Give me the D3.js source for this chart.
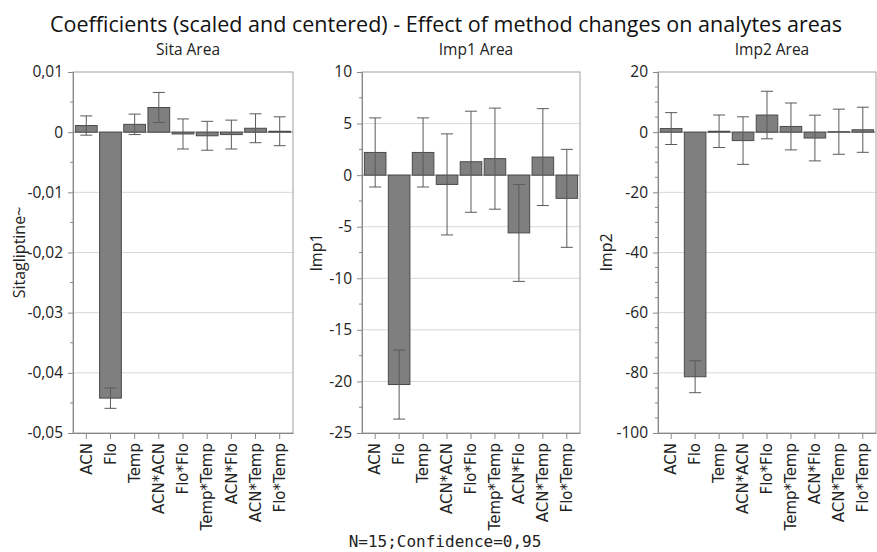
<!DOCTYPE html>
<html>
<head>
<meta charset="utf-8">
<script src="https://cdn.jsdelivr.net/npm/d3@7/dist/d3.min.js"></script>
<style>
body { margin:0; background:#fff; }
text { font-family:"Open Sans", sans-serif; fill:#222; }
</style>
</head>
<body>
<svg id="chart" width="877" height="552"></svg>
<script>
// model terms (x categories)
var terms = ["ACN","Flo","Temp","ACN*ACN","Flo*Flo","Temp*Temp","ACN*Flo","ACN*Temp","Flo*Temp"];

// coefficients and 95% half-widths
var sitaCoef = [0.0011,-0.0442,0.0013,0.0041,-0.0003,-0.0006,-0.0004,0.00065,0.00015];
var sitaErr  = [0.0016,0.0017,0.0017,0.0025,0.0025,0.0024,0.0024,0.0024,0.0024];
var imp1Coef = [2.2,-20.3,2.2,-0.9,1.3,1.6,-5.6,1.75,-2.25];
var imp1Err  = [3.35,3.35,3.35,4.9,4.9,4.9,4.7,4.7,4.75];
var imp2Coef = [1.2,-81.3,0.3,-2.8,5.7,1.9,-1.95,0.15,0.8];
var imp2Err  = [5.3,5.3,5.4,7.9,7.9,7.8,7.6,7.5,7.5];

// y tick labels
var sitaTicks = [0.01,0,-0.01,-0.02,-0.03,-0.04,-0.05];
var imp1Ticks = [10,5,0,-5,-10,-15,-20,-25];
var imp2Ticks = [20,0,-20,-40,-60,-80,-100];

var svg = d3.select("#chart");
var top0 = 72, bot0 = 433;

var loc = d3.formatLocale({decimal:",", thousands:".", grouping:[3], currency:["",""], minus:"-"});
var fmt = loc.format("~g");

var panels = [
  {title:"Sita Area", ylabel:"Sitagliptine~", coef:sitaCoef, err:sitaErr, ticks:sitaTicks, minor:0.005, x0:73,  x1:293, lx:25},
  {title:"Imp1 Area", ylabel:"Imp1",          coef:imp1Coef, err:imp1Err, ticks:imp1Ticks, minor:2.5,   x0:362, x1:580, lx:322},
  {title:"Imp2 Area", ylabel:"Imp2",          coef:imp2Coef, err:imp2Err, ticks:imp2Ticks, minor:5,     x0:658, x1:876, lx:612}
];

svg.append("text")
   .attr("x", 446).attr("y", 32)
   .attr("text-anchor","middle")
   .attr("textLength", 792).attr("lengthAdjust","spacingAndGlyphs")
   .style("font-size","22px").style("fill","#111")
   .text("Coefficients (scaled and centered) - Effect of method changes on analytes areas");

panels.forEach(drawpanel);

svg.append("text")
   .attr("x", 445).attr("y", 547)
   .attr("text-anchor","middle")
   .style("font-family","'DejaVu Sans Mono', monospace")
   .style("font-size","16px").style("fill","#222")
   .text("N=15;Confidence=0,95");

function drawpanel(p){
    var lo = d3.min(p.ticks), hi = d3.max(p.ticks);
    var y = d3.scaleLinear().domain([lo, hi]).range([bot0, top0]);
    var x = d3.scaleBand().domain(terms).range([p.x0, p.x1]).paddingInner(0.1).paddingOuter(0.1);

    var g = svg.append("g").attr("class","panel");

    // gridlines
    g.selectAll(".grid").data(p.ticks.filter(function(t){ return t!=lo && t!=hi; }))
      .enter().append("line")
      .attr("x1", p.x0).attr("x2", p.x1)
      .attr("y1", function(d){ return y(d); }).attr("y2", function(d){ return y(d); })
      .attr("stroke", function(d){ return d==0 ? "#999" : "#d8d8d8"; })
      .attr("stroke-width", 1);

    // frame
    g.append("rect")
      .attr("x", p.x0).attr("y", top0)
      .attr("width", p.x1-p.x0).attr("height", bot0-top0)
      .attr("fill","none").attr("stroke","#a0a0a0");

    // bars
    g.selectAll(".bar").data(p.coef).enter().append("rect")
      .attr("x", function(d,i){ return x(terms[i]); })
      .attr("width", x.bandwidth())
      .attr("y", function(d){ return y(Math.max(0,d)); })
      .attr("height", function(d){ return Math.abs(y(d)-y(0)); })
      .attr("fill","#7f7f7f").attr("stroke","#4a4a4a").attr("stroke-width",1);

    // error bars
    var cap = 6;
    var eb = g.selectAll(".eb").data(p.coef).enter().append("g")
      .attr("transform", function(d,i){ return "translate(" + (x(terms[i])+x.bandwidth()/2) + ",0)"; });
    eb.append("line")
      .attr("y1", function(d,i){ return y(d+p.err[i]); })
      .attr("y2", function(d,i){ return y(d-p.err[i]); })
      .attr("stroke","#5a5a5a");
    eb.append("line")
      .attr("x1",-cap).attr("x2",cap)
      .attr("y1", function(d,i){ return y(d+p.err[i]); })
      .attr("y2", function(d,i){ return y(d+p.err[i]); })
      .attr("stroke","#5a5a5a");
    eb.append("line")
      .attr("x1",-cap).attr("x2",cap)
      .attr("y1", function(d,i){ return y(d-p.err[i]); })
      .attr("y2", function(d,i){ return y(d-p.err[i]); })
      .attr("stroke","#5a5a5a");

    // y axis
    var ya = g.append("g").attr("transform","translate(" + p.x0 + ",0)")
      .call(d3.axisLeft(y).tickValues(p.ticks).tickFormat(fmt).tickSize(5).tickPadding(5));
    ya.select(".domain").attr("stroke","#888");
    ya.selectAll(".tick line").attr("stroke","#888");
    ya.selectAll(".tick text").style("font-family","'Open Sans', sans-serif").style("font-size","15.5px").style("fill","#222");

    // minor ticks
    var minors = d3.range(0, Math.round((hi-lo)/p.minor)+1).map(function(k){ return lo + k*p.minor; })
      .filter(function(v){ return p.ticks.every(function(t){ return Math.abs(t-v) > p.minor/10; }); });
    g.selectAll(".minor").data(minors).enter().append("line")
      .attr("x1", p.x0-3).attr("x2", p.x0)
      .attr("y1", function(d){ return y(d); }).attr("y2", function(d){ return y(d); })
      .attr("stroke","#888");

    // x axis
    var xa = g.append("g").attr("transform","translate(0," + bot0 + ")")
      .call(d3.axisBottom(x).tickSize(6).tickSizeOuter(0));
    xa.select(".domain").attr("stroke","#888");
    xa.selectAll(".tick line").attr("stroke","#888");
    xa.selectAll(".tick text")
      .attr("transform","rotate(-90)")
      .attr("x",-10).attr("y",0).attr("dy","0.35em")
      .attr("text-anchor","end")
      .style("font-family","'DejaVu Sans', sans-serif").style("font-size","15px").style("fill","#222");

    // panel title
    svg.append("text")
      .attr("x", (p.x0+p.x1)/2 + 5).attr("y", 55)
      .attr("text-anchor","middle")
      .style("font-size","15.5px")
      .text(p.title);

    // y label
    svg.append("text")
      .attr("transform","translate(" + p.lx + "," + ((top0+bot0)/2) + ") rotate(-90)")
      .attr("text-anchor","middle")
      .style("font-size","16px")
      .text(p.ylabel);
}
</script>
</body>
</html>
